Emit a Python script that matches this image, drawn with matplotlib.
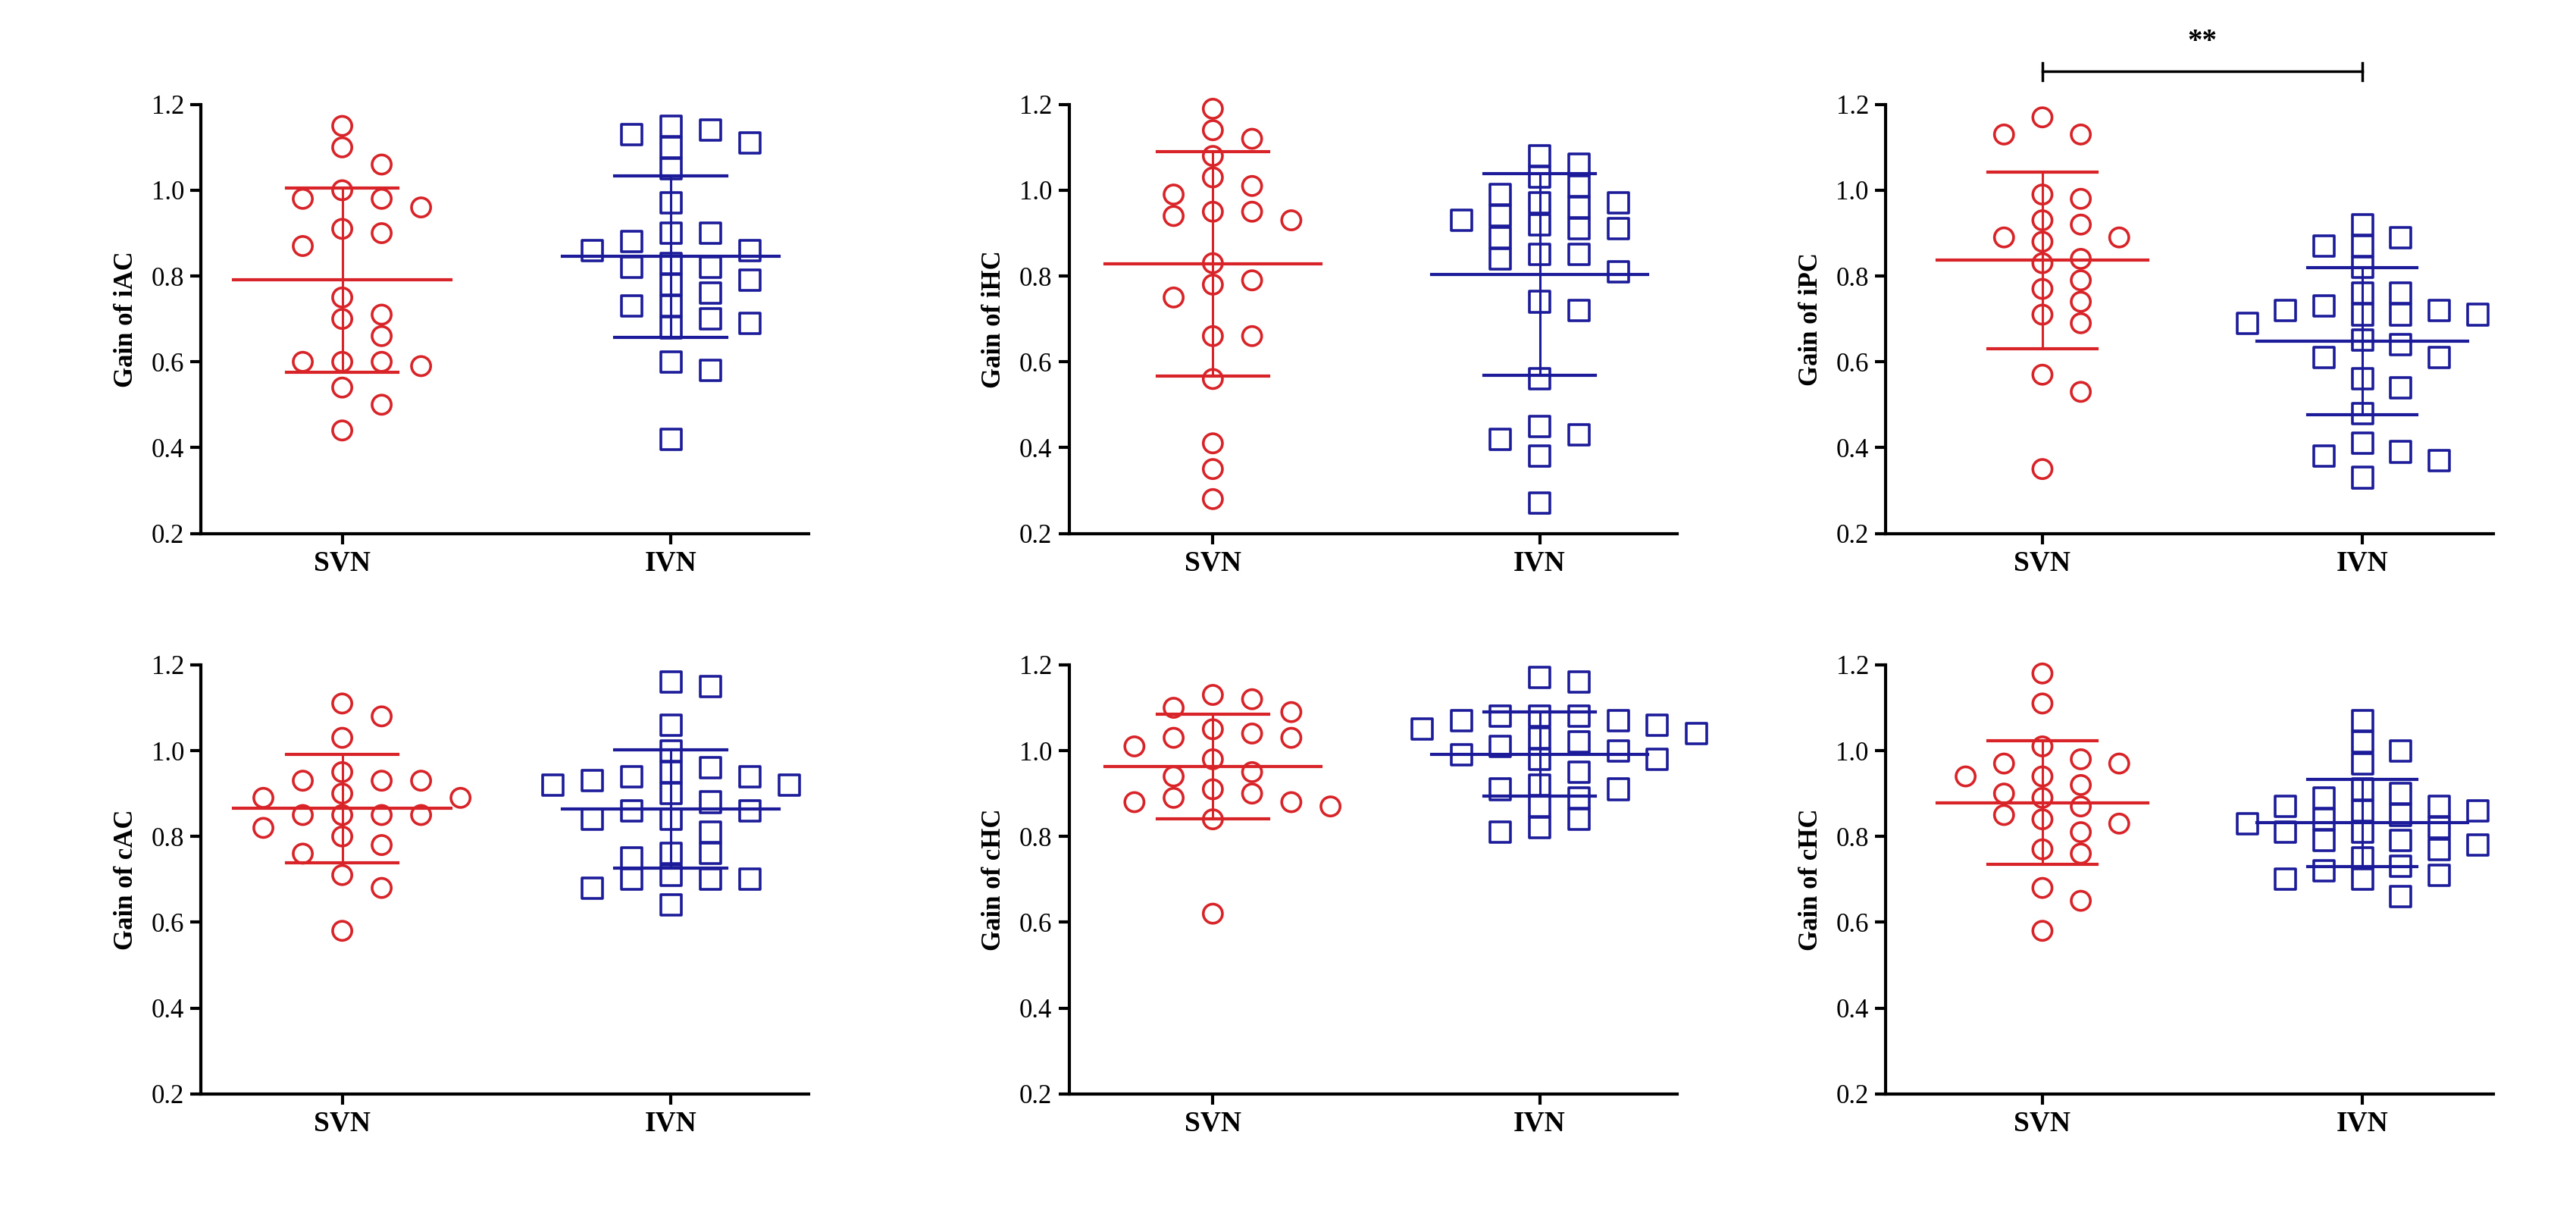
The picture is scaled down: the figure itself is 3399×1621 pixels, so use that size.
import matplotlib
matplotlib.use("Agg")
import matplotlib.pyplot as plt
import numpy as np

groups = ["SVN", "IVN"]
ylabels = ["Gain of iAC", "Gain of iHC", "Gain of iPC", "Gain of cAC", "Gain of cHC", "Gain of cHC"]

iAC_svn = [1.15,1.10,1.06,1.00,0.98,0.98,0.96,0.91,0.90,0.87,0.75,0.71,0.70,0.66,0.60,0.60,0.60,0.59,0.54,0.50,0.44]
iAC_ivn = [1.13,1.15,1.11,1.10,1.14,1.05,0.97,0.90,0.90,0.88,0.86,0.86,0.83,0.82,0.82,0.79,0.78,0.76,0.73,0.73,0.70,0.69,0.68,0.60,0.58,0.42]
iHC_svn = [1.19,1.14,1.12,1.08,1.03,1.01,0.99,0.95,0.95,0.94,0.93,0.83,0.78,0.79,0.75,0.66,0.66,0.56,0.41,0.35,0.28]
iHC_ivn = [1.08,1.06,1.03,1.01,0.99,0.97,0.97,0.96,0.94,0.93,0.92,0.91,0.91,0.89,0.85,0.85,0.84,0.81,0.74,0.72,0.56,0.45,0.43,0.42,0.38,0.27]
iPC_svn = [1.17,1.13,1.13,0.99,0.98,0.93,0.92,0.89,0.89,0.88,0.84,0.83,0.79,0.77,0.74,0.71,0.69,0.57,0.53,0.35]
iPC_ivn = [0.92,0.89,0.87,0.87,0.82,0.76,0.76,0.73,0.72,0.72,0.71,0.71,0.71,0.69,0.65,0.64,0.61,0.61,0.56,0.54,0.48,0.41,0.39,0.38,0.37,0.33]
cAC_svn = [1.11,1.08,1.03,0.95,0.93,0.93,0.93,0.90,0.89,0.89,0.85,0.85,0.85,0.85,0.82,0.80,0.78,0.76,0.71,0.68,0.58]
cAC_ivn = [1.15,1.16,1.06,1.00,0.96,0.95,0.94,0.94,0.93,0.92,0.92,0.90,0.88,0.86,0.86,0.84,0.84,0.81,0.76,0.76,0.75,0.71,0.70,0.70,0.70,0.68,0.64]
cHC_svn = [1.12,1.13,1.10,1.09,1.05,1.04,1.03,1.03,1.01,0.98,0.95,0.94,0.91,0.90,0.89,0.88,0.88,0.87,0.84,0.62]
cHC_ivn = [1.17,1.16,1.08,1.08,1.08,1.07,1.07,1.06,1.05,1.04,1.03,1.02,1.01,1.00,0.99,0.98,0.98,0.95,0.92,0.91,0.91,0.89,0.87,0.84,0.82,0.81]
cHC2_svn = [1.18,1.11,1.01,0.98,0.97,0.97,0.94,0.94,0.92,0.90,0.89,0.87,0.85,0.84,0.83,0.81,0.77,0.76,0.68,0.65,0.58]
cHC2_ivn = [1.07,1.02,1.00,0.97,0.90,0.91,0.89,0.87,0.87,0.86,0.86,0.85,0.84,0.83,0.81,0.81,0.82,0.79,0.79,0.78,0.77,0.75,0.73,0.72,0.71,0.70,0.70,0.66]

panels = [(iAC_svn, iAC_ivn), (iHC_svn, iHC_ivn), (iPC_svn, iPC_ivn),
          (cAC_svn, cAC_ivn), (cHC_svn, cHC_ivn), (cHC2_svn, cHC2_ivn)]

RED = "#D82428"
BLUE = "#1C1C9A"
FONT = "Liberation Serif"

def swarm(vals, step=0.06, wx=0.11, wy=0.048):
    vals = np.asarray(vals, float)
    order = np.argsort(-vals)
    placed = []
    offs = np.zeros(len(vals))
    cands = [0.0]
    for k in range(1, 12):
        cands += [k * step, -k * step]
    for i in order:
        for c in cands:
            ok = all(not (abs(c - px) < wx and abs(vals[i] - py) < wy) for px, py in placed)
            if ok:
                offs[i] = c
                placed.append((c, vals[i]))
                break
    return offs

fig = plt.figure(figsize=(33.99, 16.21), dpi=100)
lefts = [0.078, 0.415, 0.732]
bottoms = [0.566, 0.110]
xlims = [(-0.43, 1.42), (-0.44, 1.42), (-0.49, 1.41)]

for idx, (svn, ivn) in enumerate(panels):
    r, c = divmod(idx, 3)
    ax = fig.add_axes([lefts[c], bottoms[r], 0.236, 0.349])
    for gi, (vals, col, mk) in enumerate([(svn, RED, "o"), (ivn, BLUE, "s")]):
        vals = np.asarray(vals)
        offs = swarm(vals)
        ax.scatter(gi + offs, vals, s=330 if mk == "o" else 380, marker=mk,
                   facecolors="none", edgecolors=col, linewidths=2.6, zorder=3, clip_on=False)
        m, sd = vals.mean(), vals.std(ddof=1)
        ax.plot([gi - 0.33, gi + 0.33], [m, m], color=col, lw=3, zorder=4)
        ax.plot([gi - 0.17, gi + 0.17], [m + sd, m + sd], color=col, lw=3, zorder=4)
        ax.plot([gi - 0.17, gi + 0.17], [m - sd, m - sd], color=col, lw=3, zorder=4)
        ax.plot([gi, gi], [m - sd, m + sd], color=col, lw=2.2, zorder=4)
    ax.set_xlim(*xlims[c])
    ax.set_ylim(0.2, 1.2)
    ax.set_yticks([0.2, 0.4, 0.6, 0.8, 1.0, 1.2])
    ax.set_yticklabels(["0.2", "0.4", "0.6", "0.8", "1.0", "1.2"], fontfamily=FONT, fontsize=25)
    ax.set_xticks([0, 1])
    ax.set_xticklabels(groups, fontfamily=FONT, fontsize=27, fontweight="bold")
    ax.set_ylabel(ylabels[idx], fontfamily=FONT, fontsize=25, fontweight="bold", labelpad=12)
    for s in ["top", "right"]:
        ax.spines[s].set_visible(False)
    for s in ["left", "bottom"]:
        ax.spines[s].set_linewidth(3)
    ax.tick_params(width=3, length=10, pad=6)
    if idx == 2:
        yb = 1.277
        ax.plot([0, 1], [yb, yb], color="black", lw=2.5, clip_on=False)
        ax.plot([0, 0], [yb - 0.02, yb + 0.02], color="black", lw=2.5, clip_on=False)
        ax.plot([1, 1], [yb - 0.02, yb + 0.02], color="black", lw=2.5, clip_on=False)
        ax.text(0.5, 1.345, "**", ha="center", va="center", fontsize=28,
                fontweight="bold", fontfamily=FONT, clip_on=False)

fig.savefig("out.png", dpi=100, facecolor="white")
